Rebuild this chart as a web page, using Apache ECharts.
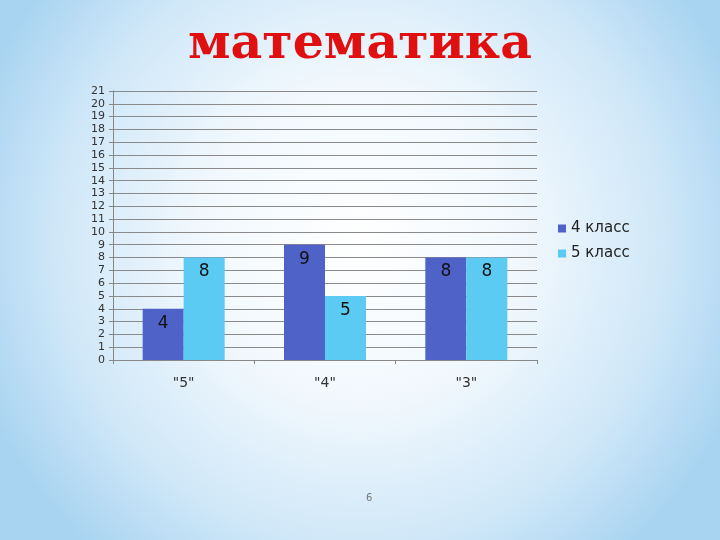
<!DOCTYPE html>
<html>
<head>
    <meta charset="utf-8" />
    <title>математика</title>
    <script src="https://cdn.jsdelivr.net/npm/echarts@6/dist/echarts.min.js"></script>
    <style>
        html, body { margin: 0; padding: 0; }
    </style>
</head>
<body>
    <div id="main" style="width:720px;height:540px"></div>
    <script type="text/javascript">

        var categories = ['"5"', '"4"', '"3"'];
        var seriesNames = ['4 класс', '5 класс'];
        var grade4 = [4, 9, 8];
        var grade5 = [8, 5, 8];
        var colorList = ['#4f62c8', '#5bcbf3'];

        var chartDom = document.getElementById('main');
        var myChart = echarts.init(chartDom);
        var option;

        var labelStyle = {
            show: true,
            position: 'insideTop',
            distance: 6,
            fontSize: 17,
            color: '#111',
            fontFamily: 'DejaVu Sans'
        };

        option = {
            backgroundColor: new echarts.graphic.RadialGradient(0.5, 0.45, 0.75, [
                { offset: 0, color: '#ffffff' },
                { offset: 0.4, color: '#f1f8fd' },
                { offset: 0.75, color: '#cfe7f8' },
                { offset: 1, color: '#a9d4f1' }
            ]),
            title: {
                text: 'математика',
                left: 'center',
                top: 16,
                textStyle: {
                    color: '#e01010',
                    fontFamily: 'DejaVu Serif',
                    fontWeight: 'bold',
                    fontSize: 49
                }
            },
            legend: {
                orient: 'vertical',
                left: 553,
                top: 216,
                itemWidth: 8,
                itemHeight: 8,
                itemGap: 10,
                icon: 'rect',
                textStyle: {
                    fontSize: 15,
                    color: '#222',
                    fontFamily: 'DejaVu Sans'
                },
                data: seriesNames
            },
            grid: {
                left: 113,
                right: 183,
                top: 91,
                bottom: 180
            },
            xAxis: {
                type: 'category',
                data: categories,
                axisLine: { lineStyle: { color: '#888' } },
                axisTick: { show: true, length: 4, lineStyle: { color: '#888' } },
                axisLabel: {
                    fontSize: 14,
                    color: '#333',
                    margin: 16,
                    fontFamily: 'DejaVu Sans'
                }
            },
            yAxis: {
                type: 'value',
                min: 0,
                max: 21,
                interval: 1,
                axisLine: { show: true, lineStyle: { color: '#888' } },
                axisTick: { show: true, length: 4, lineStyle: { color: '#888' } },
                axisLabel: {
                    fontSize: 11,
                    color: '#333',
                    margin: 8,
                    fontFamily: 'DejaVu Sans'
                },
                splitLine: { lineStyle: { color: '#8a8a8a' } }
            },
            series: [{
                name: seriesNames[0],
                type: 'bar',
                barWidth: 41,
                barGap: '0%',
                itemStyle: { color: colorList[0] },
                label: labelStyle,
                data: grade4
            }, {
                name: seriesNames[1],
                type: 'bar',
                barWidth: 41,
                barGap: '0%',
                itemStyle: { color: colorList[1] },
                label: labelStyle,
                data: grade5
            }],
            graphic: [{
                type: 'text',
                left: 366,
                top: 493,
                style: {
                    text: '6',
                    fontSize: 10,
                    fill: '#777',
                    fontFamily: 'DejaVu Sans'
                }
            }]
        };

        option && myChart.setOption(option);

    </script>
</body>
</html>
